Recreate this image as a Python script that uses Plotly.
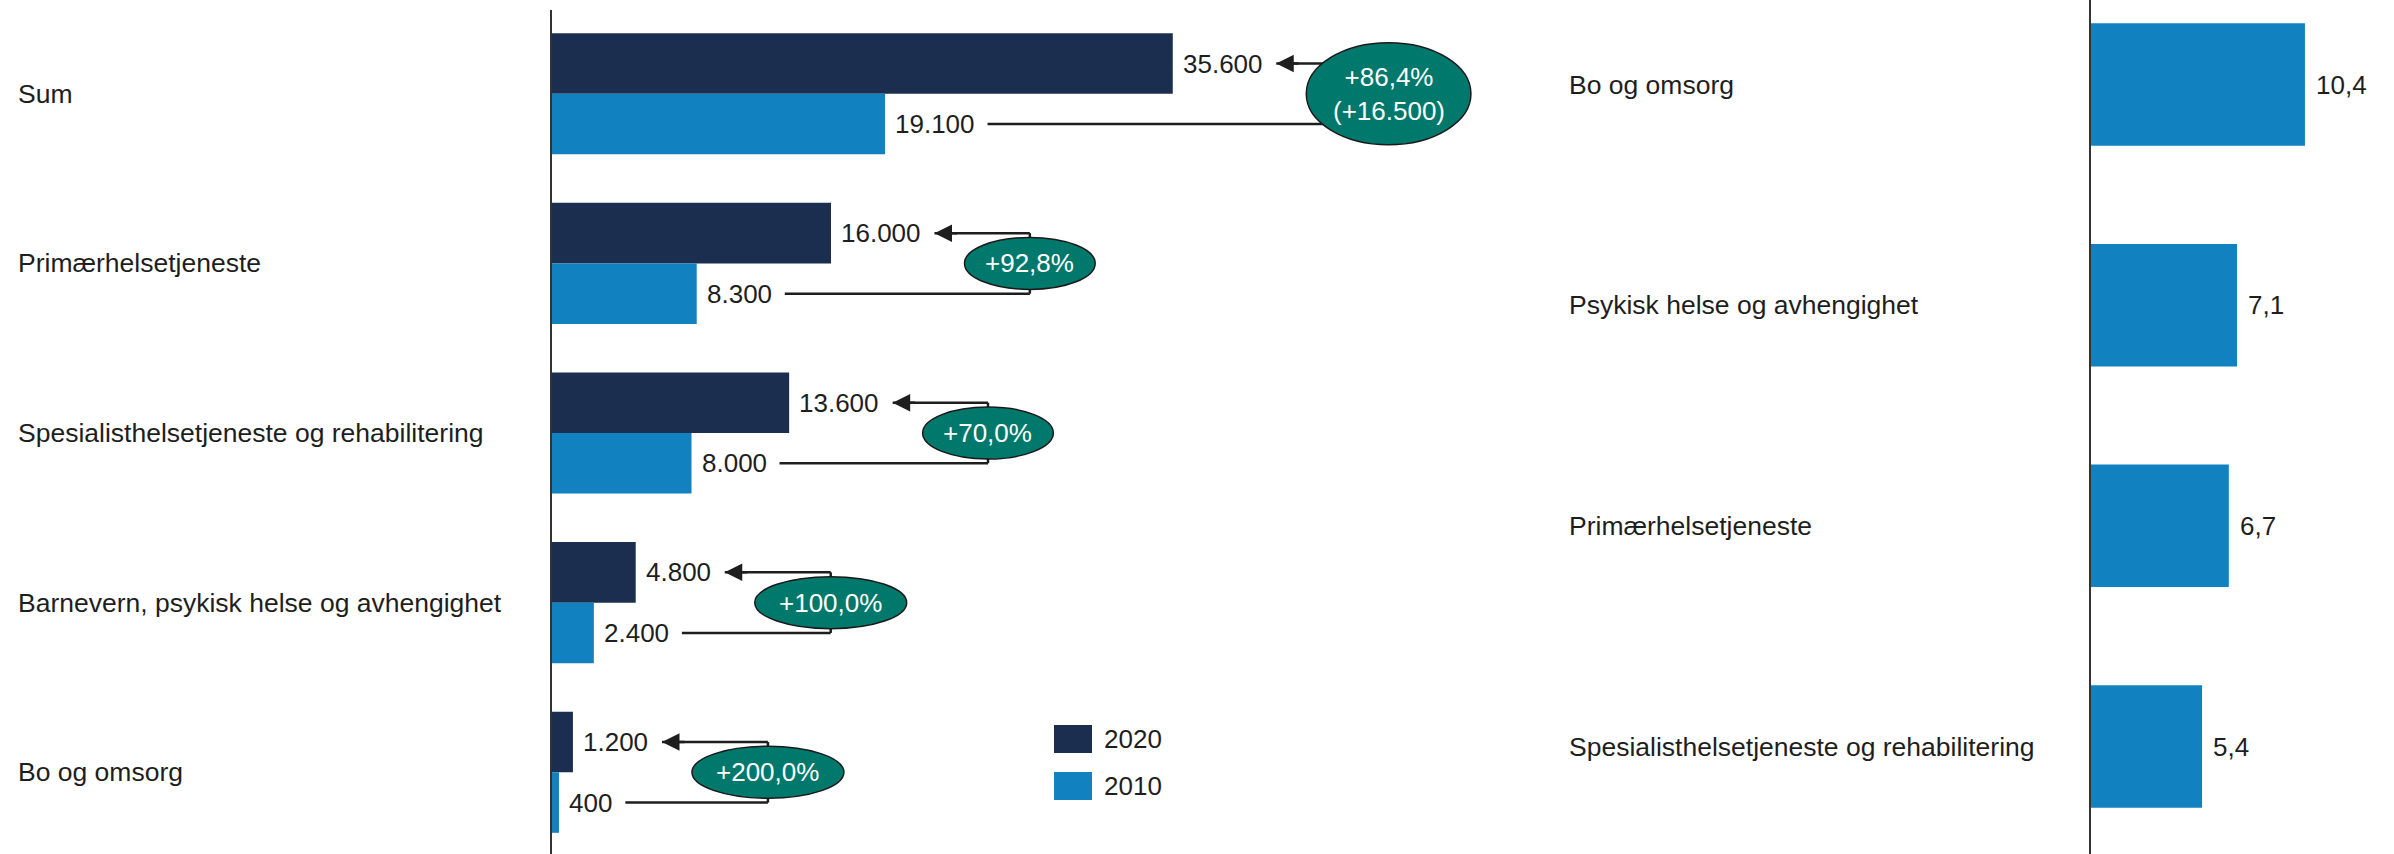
import plotly.graph_objects as go

# ---------------- data ----------------
categories_left = [
    "Sum",
    "Primærhelsetjeneste",
    "Spesialisthelsetjeneste og rehabilitering",
    "Barnevern, psykisk helse og avhengighet",
    "Bo og omsorg",
]
values_2020 = [35600, 16000, 13600, 4800, 1200]
values_2010 = [19100, 8300, 8000, 2400, 400]
change_labels = ["+86,4%<br>(+16.500)", "+92,8%", "+70,0%", "+100,0%", "+200,0%"]
series_names = ["2020", "2010"]

categories_right = [
    "Bo og omsorg",
    "Psykisk helse og avhengighet",
    "Primærhelsetjeneste",
    "Spesialisthelsetjeneste og rehabilitering",
]
values_right = [10.4, 7.1, 6.7, 5.4]

# ---------------- style / layout constants ----------------
W, H = 2394, 854
NAVY = "#1b2e4f"
BLUE = "#1181c0"
TEAL = "#00786c"
INK = "#1e1e1e"
FONT = "Liberation Sans, Arial, Helvetica, sans-serif"
LBL_SIZE = 26.5
VAL_SIZE = 26
PCT_SIZE = 26

# left panel geometry (pixels)
L_X0, L_X1 = 552, 1540
L_XMAX = 56660
L_TOP = 10
L_YRANGE = [4.482, -0.494]
L_BAR_W = 0.357
L_PPU = (L_X1 - L_X0) / L_XMAX                 # px per data unit (x)
L_PPY = (H - L_TOP) / (L_YRANGE[0] - L_YRANGE[1])  # px per category unit

# right panel geometry
R_X0, R_X1 = 2091, W
R_XMAX = 14.73
R_YRANGE = [3.487, -0.383]
R_BAR_W = 0.555

# Arial/Liberation Sans advance widths (em)
CW = {"0": .556, "1": .556, "2": .556, "3": .556, "4": .556, "5": .556, "6": .556,
      "7": .556, "8": .556, "9": .556, ".": .278, ",": .278, "+": .584, "%": .889,
      "(": .333, ")": .333}


def text_w(s, size):
    return sum(CW.get(c, .556) for c in s) * size


def fmt_int(v):
    return f"{v:,}".replace(",", ".")


def fmt_dec(v):
    return f"{v:.1f}".replace(".", ",")


fig = go.Figure()

# ---------------- bars ----------------
fig.add_trace(go.Bar(
    y=list(range(len(categories_left))), x=values_2020, orientation="h",
    width=L_BAR_W, offset=-L_BAR_W, marker=dict(color=NAVY, line=dict(width=0)),
    name=series_names[0], xaxis="x", yaxis="y", hoverinfo="skip", showlegend=False))
fig.add_trace(go.Bar(
    y=list(range(len(categories_left))), x=values_2010, orientation="h",
    width=L_BAR_W, offset=0, marker=dict(color=BLUE, line=dict(width=0)),
    name=series_names[1], xaxis="x", yaxis="y", hoverinfo="skip", showlegend=False))
fig.add_trace(go.Bar(
    y=list(range(len(categories_right))), x=values_right, orientation="h",
    width=R_BAR_W, offset=-R_BAR_W / 2, marker=dict(color=BLUE, line=dict(width=0)),
    xaxis="x2", yaxis="y2", hoverinfo="skip", showlegend=False))

annotations = []
shapes = []

# ---------------- category labels ----------------
for i, c in enumerate(categories_left):
    annotations.append(dict(text=c, xref="paper", x=16 / W, yref="y", y=i,
                            xanchor="left", yanchor="middle", showarrow=False,
                            font=dict(size=LBL_SIZE, color=INK, family=FONT)))
for i, c in enumerate(categories_right):
    annotations.append(dict(text=c, xref="paper", x=1567 / W, yref="y2", y=i,
                            xanchor="left", yanchor="middle", showarrow=False,
                            font=dict(size=LBL_SIZE, color=INK, family=FONT)))

# ---------------- value labels ----------------
half = L_BAR_W / 2
for i in range(len(categories_left)):
    annotations.append(dict(text=fmt_int(values_2020[i]), xref="x", x=values_2020[i],
                            yref="y", y=i - half, xanchor="left", yanchor="middle",
                            xshift=8, showarrow=False,
                            font=dict(size=VAL_SIZE, color=INK, family=FONT)))
    annotations.append(dict(text=fmt_int(values_2010[i]), xref="x", x=values_2010[i],
                            yref="y", y=i + half, xanchor="left", yanchor="middle",
                            xshift=8, showarrow=False,
                            font=dict(size=VAL_SIZE, color=INK, family=FONT)))
for i, v in enumerate(values_right):
    annotations.append(dict(text=fmt_dec(v), xref="x2", x=v, yref="y2", y=i,
                            xanchor="left", yanchor="middle", xshift=9, showarrow=False,
                            font=dict(size=VAL_SIZE, color=INK, family=FONT)))

# ---------------- change brackets & ellipses ----------------
for i in range(len(categories_left)):
    y20, y10 = i - half, i + half
    lab20, lab10 = fmt_int(values_2020[i]), fmt_int(values_2010[i])
    tip = values_2020[i] + (10 + text_w(lab20, VAL_SIZE) + 14) / L_PPU
    start10 = values_2010[i] + (10 + text_w(lab10, VAL_SIZE) + 13) / L_PPU
    lines = change_labels[i].split("<br>")
    ew = 1.47 * max(text_w(s, PCT_SIZE) for s in lines)
    eh = 52 if len(lines) == 1 else 102
    e_left = tip + 30 / L_PPU
    cx = e_left + ew / 2 / L_PPU
    line_style = dict(color=INK, width=2.5)
    shapes.append(dict(type="line", xref="x", yref="y", x0=tip, x1=cx, y0=y20, y1=y20,
                       line=line_style))
    shapes.append(dict(type="line", xref="x", yref="y", x0=cx, x1=cx, y0=y20, y1=y10,
                       line=line_style))
    shapes.append(dict(type="line", xref="x", yref="y", x0=start10, x1=cx, y0=y10, y1=y10,
                       line=line_style))
    shapes.append(dict(type="circle", xref="x", yref="y",
                       x0=cx - ew / 2 / L_PPU, x1=cx + ew / 2 / L_PPU,
                       y0=i - eh / 2 / L_PPY, y1=i + eh / 2 / L_PPY,
                       fillcolor=TEAL, line=dict(color="#1a1a1a", width=1.5)))
    annotations.append(dict(text=change_labels[i], xref="x", x=cx, yref="y", y=i,
                            xanchor="center", yanchor="middle", showarrow=False,
                            font=dict(size=PCT_SIZE, color="white", family=FONT)))
    # arrow head pointing at the 2020 label
    annotations.append(dict(text="", xref="x", x=tip, yref="y", y=y20,
                            showarrow=True, ax=24, ay=0, arrowhead=2, arrowsize=1.4,
                            arrowwidth=2.5, arrowcolor=INK, standoff=0))

# ---------------- manual legend ----------------
leg_colors = [NAVY, BLUE]
for k, (name, col) in enumerate(zip(series_names, leg_colors)):
    top = 725 + k * 47
    shapes.append(dict(type="rect", xref="paper", yref="paper",
                       x0=1054 / W, x1=1092 / W, y0=1 - (top + 28) / H, y1=1 - top / H,
                       fillcolor=col, line=dict(width=0)))
    annotations.append(dict(text=name, xref="paper", x=1102 / W, yref="paper",
                            y=1 - (top + 14) / H, xanchor="left", yanchor="middle",
                            showarrow=False, font=dict(size=VAL_SIZE, color=INK, family=FONT)))

axis_common = dict(showgrid=False, zeroline=False, showticklabels=False, ticks="")
fig.update_layout(
    width=W, height=H,
    margin=dict(l=0, r=0, t=0, b=0),
    paper_bgcolor="white", plot_bgcolor="white",
    barmode="overlay",
    showlegend=False,
    hovermode=False,
    font=dict(family=FONT, color=INK),
    xaxis=dict(domain=[L_X0 / W, L_X1 / W], range=[0, L_XMAX], showline=False,
               anchor="y", **axis_common),
    yaxis=dict(domain=[0, 1 - L_TOP / H], range=L_YRANGE, showline=True,
               linecolor="#333333", linewidth=1.5, anchor="x", **axis_common),
    xaxis2=dict(domain=[R_X0 / W, R_X1 / W], range=[0, R_XMAX], showline=False,
                anchor="y2", **axis_common),
    yaxis2=dict(domain=[0, 1], range=R_YRANGE, showline=True,
                linecolor="#333333", linewidth=1.5, anchor="x2", **axis_common),
    shapes=shapes,
    annotations=annotations,
)

fig.write_html("out.html", config={"displayModeBar": False},
               post_script="document.body.style.margin='0';document.body.style.overflow='hidden';")
